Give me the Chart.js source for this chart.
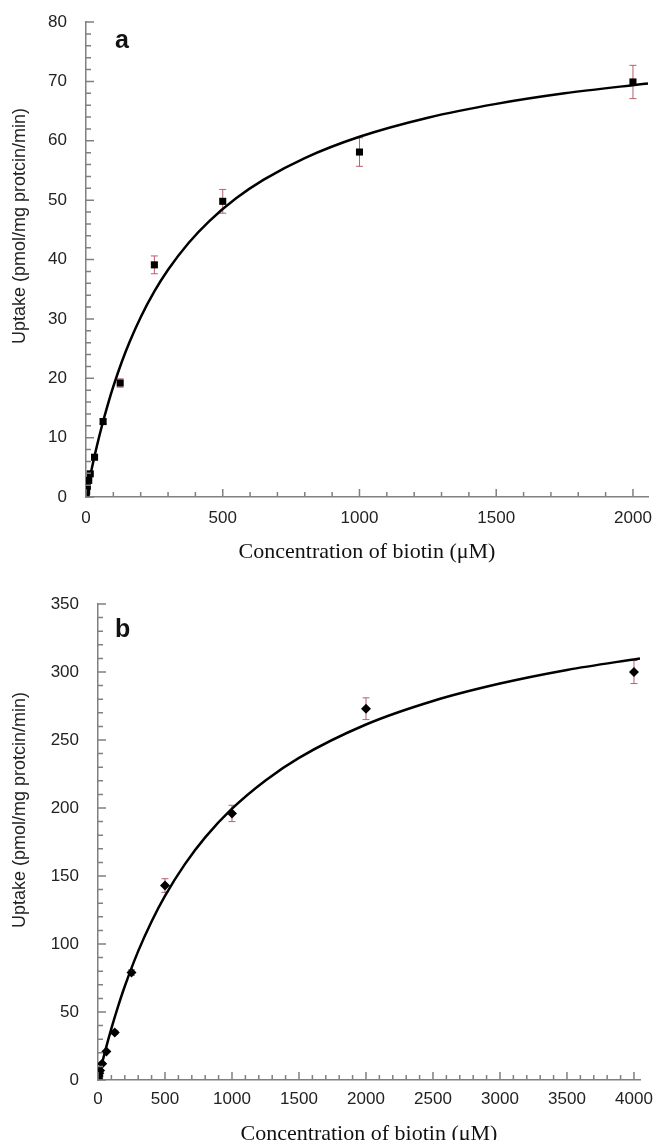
<!DOCTYPE html>
<html>
<head>
<meta charset="utf-8">
<script src="https://cdn.jsdelivr.net/npm/chart.js@4"></script>
<style>
  html, body { margin: 0; padding: 0; background: #fff; overflow: hidden; }
  #boxA { position: absolute; left: 0; top: 0; width: 656px; height: 570px; }
  #boxB { position: absolute; left: 0; top: 570px; width: 656px; height: 580px; }
</style>
</head>
<body>
<div id="boxA"><canvas id="chartA"></canvas></div>
<div id="boxB"><canvas id="chartB"></canvas></div>
<script>
// panel a: uptake vs biotin concentration
const concA = [1, 2.5, 5, 10, 15.6, 31.25, 62.5, 125, 250, 500, 1000, 2000];
const uptakeA = [0.4, 1.0, 1.8, 2.8, 3.9, 6.7, 12.7, 19.2, 39.1, 49.8, 58.1, 69.9];
const errA = [0, 0, 0, 0, 0, 0.3, 0.4, 0.7, 1.5, 2.0, 2.4, 2.8];
// fitted curve
const fitXA = [0, 20, 40, 60, 80, 100, 130, 160, 200, 250, 300, 375, 450, 550, 650, 800, 1000, 1250, 1500, 1750, 2055];
const fitYA = [0, 4.56, 8.64, 12.3, 15.61, 18.62, 22.65, 26.18, 30.28, 34.62, 38.27, 42.78, 46.43, 50.34, 53.45, 57.09, 60.67, 63.88, 66.21, 67.99, 69.65];
const xTicksA = [0, 500, 1000, 1500, 2000];

// panel b
const concB = [1, 2.5, 5, 10, 15.6, 31.25, 62.5, 125, 250, 500, 1000, 2000, 4000];
const uptakeB = [0.5, 1.5, 3, 5, 7, 12, 21, 35, 79, 143, 196, 273, 300];
const errB = [0, 0, 0, 0, 0, 0, 0, 1.5, 2, 5, 6, 8, 8.5];
const fitXB = [0, 25, 50, 100, 150, 200, 300, 400, 500, 650, 800, 1000, 1250, 1500, 2000, 2500, 3000, 3500, 4045];
const fitYB = [0, 10.24, 19.95, 37.9, 54.14, 68.91, 94.75, 116.6, 135.4, 158.9, 178.4, 199.5, 220.3, 236.9, 261.4, 278.7, 291.5, 301.5, 310];
const xTicksB = [0, 500, 1000, 1500, 2000, 2500, 3000, 3500, 4000];

const xTitle = 'Concentration of biotin (\u03bcM)';
const yTitle = 'Uptake (pmol/mg protcin/min)';

const tickFont = { family: 'Liberation Sans, Arial, sans-serif', size: 17 };
const axisGrey = '#808080';

// inward minor/major ticks, error bars and extra labels
const decorations = {
    id: 'decorations',
    beforeDatasetsDraw(chart, args, opts) {
        const { ctx } = chart;
        const x = chart.scales.x, y = chart.scales.y;
        ctx.save();
        ctx.strokeStyle = '#b8606e';
        ctx.lineWidth = 1;
        opts.conc.forEach((c, i) => {
            const e = opts.err[i];
            if (!e) return;
            const px = x.getPixelForValue(c);
            const top = y.getPixelForValue(opts.vals[i] + e);
            const bot = y.getPixelForValue(opts.vals[i] - e);
            ctx.beginPath();
            ctx.moveTo(px, top); ctx.lineTo(px, bot);
            ctx.moveTo(px - 3.5, top); ctx.lineTo(px + 3.5, top);
            ctx.moveTo(px - 3.5, bot); ctx.lineTo(px + 3.5, bot);
            ctx.stroke();
        });
        ctx.restore();
    },
    afterDraw(chart, args, opts) {
        const { ctx } = chart;
        const x = chart.scales.x, y = chart.scales.y;
        ctx.save();
        ctx.strokeStyle = axisGrey;
        ctx.lineWidth = 1.5;
        ctx.beginPath();
        for (let v = 0; v <= opts.xEnd + 0.001; v += opts.xMinor) {
            const px = x.getPixelForValue(v);
            const len = (Math.round(v) % opts.xMajor === 0) ? 8 : 5;
            ctx.moveTo(px, y.bottom); ctx.lineTo(px, y.bottom - len);
        }
        for (let v = 0; v <= y.max + 0.001; v += opts.yMinor) {
            const py = y.getPixelForValue(v);
            const len = (Math.round(v) % opts.yMajor === 0) ? 8 : 5;
            ctx.moveTo(x.left, py); ctx.lineTo(x.left + len, py);
        }
        ctx.stroke();

        ctx.fillStyle = '#111';
        ctx.font = 'bold 25px "Liberation Sans", Arial, sans-serif';
        ctx.textAlign = 'left';
        ctx.textBaseline = 'alphabetic';
        ctx.fillText(opts.letter, 115, opts.letterY);

        ctx.translate(20, opts.titleY);
        ctx.rotate(-Math.PI / 2);
        ctx.font = '18px "Liberation Sans", Arial, sans-serif';
        ctx.fillStyle = '#222';
        ctx.textAlign = 'center';
        ctx.textBaseline = 'middle';
        ctx.fillText(yTitle, 0, 0);
        ctx.restore();
    }
};

function makeChart(id, cfg) {
    return new Chart(document.getElementById(id).getContext('2d'), {
        type: 'scatter',
        data: {
            datasets: [
                {
                    type: 'line',
                    data: cfg.fitX.map((v, i) => ({ x: v, y: cfg.fitY[i] })),
                    borderColor: '#000',
                    borderWidth: 2.5,
                    pointRadius: 0,
                    cubicInterpolationMode: 'monotone',
                    fill: false
                },
                {
                    data: cfg.conc.map((v, i) => ({ x: v, y: cfg.vals[i] })),
                    pointStyle: cfg.marker,
                    pointRadius: cfg.markerSize,
                    backgroundColor: '#000',
                    borderColor: '#000',
                    borderWidth: 0
                }
            ]
        },
        options: {
            responsive: true, maintainAspectRatio: false, animation: false,
            layout: { padding: { top: cfg.padTop, right: cfg.padRight, left: 0, bottom: 0 } },
            plugins: {
                legend: { display: false },
                tooltip: { enabled: false },
                decorations: {
                    conc: cfg.conc, vals: cfg.vals, err: cfg.err,
                    xMinor: 100, xMajor: 500, xEnd: cfg.xTicks[cfg.xTicks.length - 1],
                    yMinor: cfg.yMinor, yMajor: cfg.yStep,
                    letter: cfg.letter, letterY: cfg.letterY, titleY: cfg.titleY
                }
            },
            scales: {
                x: {
                    type: 'linear', min: 0, max: cfg.xMax,
                    ticks: { maxRotation: 0, autoSkip: false, padding: cfg.xTickPad, color: '#222', font: tickFont,
                             callback: (v) => String(v) },
                    afterBuildTicks(s) { s.ticks = cfg.xTicks.map(v => ({ value: v })); },
                    grid: { display: false },
                    border: { color: axisGrey, width: 1.5 },
                    title: { display: true, text: xTitle, color: '#111',
                             font: { family: 'Liberation Serif, Times New Roman, serif', size: 22 },
                             padding: { top: 0, bottom: cfg.titlePad } },
                    afterFit(s) { s.height = cfg.xHeight; }
                },
                y: {
                    type: 'linear', min: 0, max: cfg.yMax,
                    ticks: { stepSize: cfg.yStep, padding: 11, color: '#222', font: tickFont },
                    grid: { display: false },
                    border: { color: axisGrey, width: 1.5 },
                    afterFit(s) { s.width = cfg.yWidth; }
                }
            }
        },
        plugins: [decorations]
    });
}

makeChart('chartA', {
    fitX: fitXA, fitY: fitYA, conc: concA, vals: uptakeA, err: errA, xTicks: xTicksA,
    marker: 'rect', markerSize: 5, xMax: 2055, yMax: 80, yStep: 10, yMinor: 2,
    padTop: 22, padRight: 8, xHeight: 73, yWidth: 86, titlePad: 5, xTickPad: 3,
    letter: 'a', letterY: 48, titleY: 226
});

makeChart('chartB', {
    fitX: fitXB, fitY: fitYB, conc: concB, vals: uptakeB, err: errB, xTicks: xTicksB,
    marker: 'rectRot', markerSize: 5, xMax: 4045, yMax: 350, yStep: 50, yMinor: 10,
    padTop: 34, padRight: 16, xHeight: 70, yWidth: 98, titlePad: 3, xTickPad: 1,
    letter: 'b', letterY: 67, titleY: 240
});
</script>
</body>
</html>
